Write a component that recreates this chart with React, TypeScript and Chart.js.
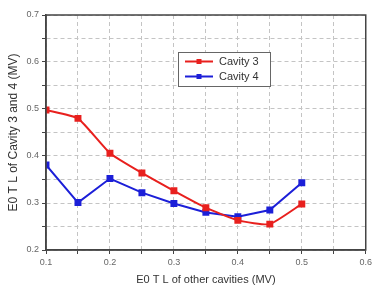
import React, { useEffect, useRef } from "react";
import { Chart, registerables } from "chart.js";

Chart.register(...registerables);

const xValues = [0.1, 0.15, 0.2, 0.25, 0.3, 0.35, 0.4, 0.45, 0.5];
const cavity3 = [0.498, 0.48, 0.406, 0.364, 0.326, 0.29, 0.263, 0.255, 0.298];
const cavity4 = [0.381, 0.301, 0.352, 0.322, 0.299, 0.28, 0.271, 0.285, 0.343];
const seriesNames = ["Cavity 3", "Cavity 4"];
const xTitle = "E0 T L of other cavities (MV)";
const yTitle = "E0 T L of Cavity 3 and 4 (MV)";

const RED = "#e8201e";
const BLUE = "#1c1fd8";

const framePlugin = {
  id: "frame",
  afterDraw(chart: any) {
    const { ctx, chartArea } = chart;
    const { left, right, top, bottom } = chartArea;
    ctx.save();
    ctx.setLineDash([]);
    ctx.strokeStyle = "#444";
    ctx.lineWidth = 1.5;
    ctx.strokeRect(left, top, right - left, bottom - top);
    // legend
    const bx = 178, by = 52, bw = 92, bh = 34;
    ctx.fillStyle = "#fff";
    ctx.fillRect(bx, by, bw, bh);
    ctx.strokeStyle = "#666";
    ctx.lineWidth = 1;
    ctx.strokeRect(bx + 0.5, by + 0.5, bw, bh);
    const colors = [RED, BLUE];
    const rows = [61.5, 76.5];
    ctx.font = "11px 'Liberation Sans', Arial, sans-serif";
    ctx.textBaseline = "middle";
    ctx.textAlign = "left";
    rows.forEach((ry, i) => {
      ctx.strokeStyle = colors[i];
      ctx.lineWidth = 2;
      ctx.beginPath();
      ctx.moveTo(185, ry);
      ctx.lineTo(213, ry);
      ctx.stroke();
      ctx.fillStyle = colors[i];
      ctx.fillRect(196.5, ry - 2.5, 5, 5);
      ctx.fillStyle = "#333";
      ctx.fillText(seriesNames[i], 219, ry + 0.5);
    });
    ctx.restore();
  },
};

const tickLabel = (v: any) => {
  const n = Number(v);
  return Math.abs(n * 10 - Math.round(n * 10)) < 1e-6 ? n.toFixed(1) : "";
};

const gridOpts: any = {
  color: "#c4c4c4",
  lineWidth: 1,
  tickColor: "#444",
  tickLength: 4,
  tickBorderDash: [],
};

export default function App() {
  const ref = useRef<HTMLCanvasElement>(null);
  useEffect(() => {
    document.body.style.margin = "0";
    const ctx = ref.current!.getContext("2d")!;
    const chart = new Chart(ctx, {
      type: "line",
      data: {
        datasets: [
          {
            label: seriesNames[0],
            data: xValues.map((x, i) => ({ x, y: cavity3[i] })),
            borderColor: RED,
            backgroundColor: RED,
            borderWidth: 2,
            pointStyle: "rect",
            pointRadius: 3.5,
            tension: 0.15,
          },
          {
            label: seriesNames[1],
            data: xValues.map((x, i) => ({ x, y: cavity4[i] })),
            borderColor: BLUE,
            backgroundColor: BLUE,
            borderWidth: 2,
            pointStyle: "rect",
            pointRadius: 3.5,
            tension: 0,
          },
        ],
      },
      options: {
        animation: false,
        responsive: false,
        maintainAspectRatio: false,
        layout: { padding: { left: 0, right: 8, top: 15, bottom: 0 } },
        plugins: {
          legend: { display: false },
          tooltip: { enabled: false },
        },
        scales: {
          x: {
            type: "linear",
            min: 0.1,
            max: 0.6,
            afterFit: (s: any) => {
              s.height = 37;
            },
            ticks: {
              stepSize: 0.05,
              autoSkip: false,
              maxRotation: 0,
              callback: tickLabel,
              color: "#666",
              font: { size: 9, family: "'Liberation Sans', Arial, sans-serif" },
              padding: 3,
            },
            grid: gridOpts,
            border: { display: true, color: "#444", width: 1.5, dash: [4, 3] } as any,
            title: {
              display: true,
              text: xTitle,
              color: "#333",
              font: { size: 11, family: "'Liberation Sans', Arial, sans-serif" },
              padding: { top: 0, bottom: 0 },
            },
          },
          y: {
            type: "linear",
            min: 0.2,
            max: 0.7,
            afterFit: (s: any) => {
              s.width = 46;
            },
            ticks: {
              stepSize: 0.05,
              autoSkip: false,
              callback: tickLabel,
              color: "#666",
              font: { size: 9, family: "'Liberation Sans', Arial, sans-serif" },
              padding: 3,
            },
            grid: gridOpts,
            border: { display: true, color: "#444", width: 1.5, dash: [4, 3] } as any,
            title: {
              display: true,
              text: yTitle,
              color: "#333",
              font: { size: 12, family: "'Liberation Sans', Arial, sans-serif" },
              padding: { top: 6, bottom: 0 },
            },
          },
        },
      },
      plugins: [framePlugin],
    });
    return () => chart.destroy();
  }, []);
  return (
    <div style={{ position: "relative", width: 375, height: 287 }}>
      <canvas ref={ref} width={375} height={287} style={{ display: "block" }} />
    </div>
  );
}
